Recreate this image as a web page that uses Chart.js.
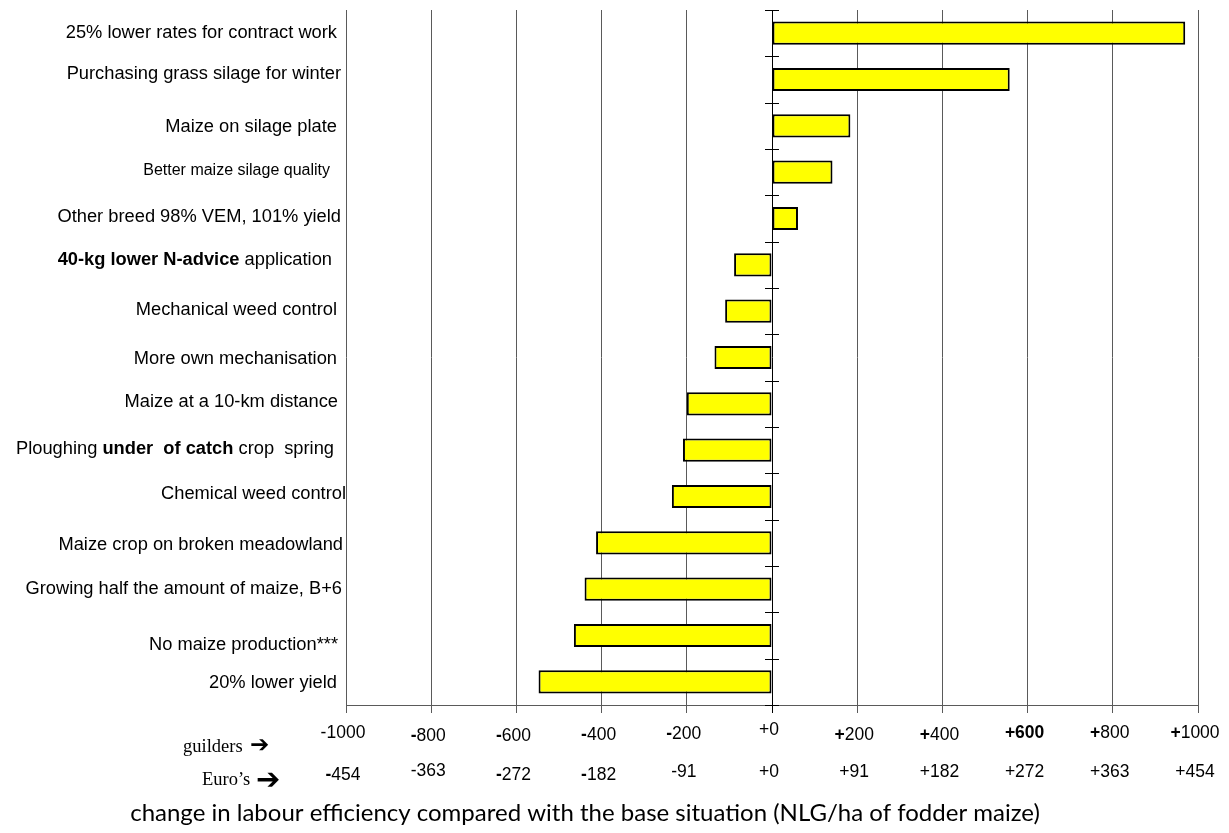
<!DOCTYPE html>
<html>
<head>
<meta charset="utf-8">
<title>Change in labour efficiency</title>
<script src="https://cdn.jsdelivr.net/npm/chart.js@4.4.1/dist/chart.umd.min.js"></script>
<style>
  html, body { margin: 0; padding: 0; background: #ffffff; }
  #wrap { width: 1229px; height: 833px; }
</style>
</head>
<body>
<div id="wrap"><canvas id="chart" width="1229" height="833"></canvas></div>
<script>
// Measures, top to bottom. Text inside {braces} is set in bold.
const categories = [
  "25% lower rates for contract work",
  "Purchasing grass silage for winter",
  "Maize on silage plate",
  "Better maize silage quality",
  "Other breed 98% VEM, 101% yield",
  "{40-kg lower N-advice} application",
  "Mechanical weed control",
  "More own mechanisation",
  "Maize at a 10-km distance",
  "Ploughing {under  of catch} crop  spring",
  "Chemical weed control",
  "Maize crop on broken meadowland",
  "Growing half the amount of maize, B+6",
  "No maize production***",
  "20% lower yield"
];

// Change in labour efficiency, NLG per ha of fodder maize
const changeNLG = [970, 558, 184, 142, 61, -89, -110, -135, -200, -209, -235, -413, -440, -465, -548];

// Axis tick values (guilders) and their printed labels
const guilderTicks = [-1000, -800, -600, -400, -200, 0, 200, 400, 600, 800, 1000];
const guilderLabels = ["-1000", "{-}800", "{-}600", "{-}400", "{-}200", "+0",
                       "{+}200", "{+}400", "{+600}", "{+}800", "{+}1000"];
const euroLabels = ["{-}454", "-363", "{-}272", "{-}182", "-91", "+0",
                    "+91", "+182", "+272", "+363", "+454"];

const axisTitle = "change in labour efficiency compared with the base situation (NLG/ha of fodder maize)";

// ---- styling ----
const SANS = '"Liberation Sans", Arial, sans-serif';
const SERIF = '"Liberation Serif", "Times New Roman", serif';
const labelSize = [18.3, 18.3, 18.3, 16, 18.3, 18.3, 18.3, 18.3, 18.3, 18.3, 18.3, 18.3, 18.3, 18.3, 18.3];
const labelDy = [0, -6, 1, -2, -2, -5, -1, 1, -2, -1, -3, 2, 0, 9, 1];
const labelRight = [337, 341, 337, 330, 341, 332, 337, 337, 338, 334, 346, 343, 342, 338, 337];
const guilderDy = [-2, 1, 1, 0, -1, -5, 0, 0, -2, -2, -2];
const euroDy = [3, -1, 3, 3, 0, 0, 0, 0, 0, 0, 0];

function drawRich(ctx, text, x, y, size, family, align) {
  const parts = text.split(/[{}]/);
  let total = 0;
  const widths = parts.map((p, i) => {
    ctx.font = (i % 2 ? "bold " : "") + size + "px " + family;
    const w = ctx.measureText(p).width;
    total += w;
    return w;
  });
  let cx = align === "right" ? x - total : align === "center" ? x - total / 2 : x;
  ctx.textAlign = "left";
  ctx.textBaseline = "middle";
  parts.forEach((p, i) => {
    ctx.font = (i % 2 ? "bold " : "") + size + "px " + family;
    ctx.fillText(p, cx, y);
    cx += widths[i];
  });
}

const annotations = {
  id: "annotations",
  afterDraw(chart) {
    const ctx = chart.ctx;
    const xs = chart.scales.x, ys = chart.scales.y;
    const area = chart.chartArea;
    ctx.save();
    ctx.fillStyle = "#000";

    // short cross ticks on the zero axis at category boundaries
    const x0 = xs.getPixelForValue(0);
    const band = (area.bottom - area.top) / categories.length;
    ctx.strokeStyle = "#000";
    ctx.lineWidth = 1;
    for (let k = 0; k <= categories.length; k++) {
      const y = Math.round(area.top + k * band) + 0.5;
      ctx.beginPath();
      ctx.moveTo(x0 - 7, y);
      ctx.lineTo(x0 + 7, y);
      ctx.stroke();
    }

    // category labels
    categories.forEach((c, i) => {
      const y = ys.getPixelForValue(i) + labelDy[i];
      drawRich(ctx, c, labelRight[i], y, labelSize[i], SANS, "right");
    });

    // tick label rows
    guilderTicks.forEach((v, i) => {
      const x = xs.getPixelForValue(v) - 3;
      drawRich(ctx, guilderLabels[i], x, 735 + guilderDy[i], 17.5, SANS, "center");
      drawRich(ctx, euroLabels[i], x, 772 + euroDy[i], 17.5, SANS, "center");
    });

    // row captions
    ctx.font = "18.5px " + SERIF;
    ctx.textBaseline = "middle";
    ctx.textAlign = "left";
    ctx.fillText("guilders", 183, 747);
    ctx.fillText("Euro\u2019s", 202, 780);
    ctx.font = "bold 23px 'DejaVu Sans'";
    ctx.fillText("\u2794", 250, 746);
    ctx.font = "bold 29px 'DejaVu Sans'";
    ctx.fillText("\u2794", 256, 781);

    // axis title
    ctx.font = "24px Lato, sans-serif";
    ctx.textAlign = "center";
    ctx.fillText(axisTitle, 585, 813);
    ctx.restore();
  }
};

new Chart(document.getElementById("chart"), {
  type: "bar",
  data: {
    labels: categories,
    datasets: [{
      data: changeNLG,
      backgroundColor: "#ffff00",
      borderColor: "#000000",
      borderWidth: 2,
      borderSkipped: false,
      barPercentage: 0.5,
      categoryPercentage: 1
    }]
  },
  options: {
    indexAxis: "y",
    responsive: false,
    animation: false,
    layout: { padding: { top: 10, right: 31, left: 0, bottom: 0 } },
    plugins: { legend: { display: false }, tooltip: { enabled: false } },
    scales: {
      x: {
        min: -1000,
        max: 1000,
        ticks: { stepSize: 200, display: false },
        grid: {
          color: c => (c.tick && c.tick.value === 0) ? "#000000" : "#5a5a5a",
          lineWidth: 1,
          drawTicks: true,
          tickLength: 8
        },
        border: { display: true, color: "#5a5a5a", width: 1 },
        afterFit: s => { s.height = 128; }
      },
      y: {
        ticks: { display: false },
        grid: { display: false },
        border: { display: false },
        afterFit: s => { s.width = 346; }
      }
    }
  },
  plugins: [annotations]
});
</script>
</body>
</html>
